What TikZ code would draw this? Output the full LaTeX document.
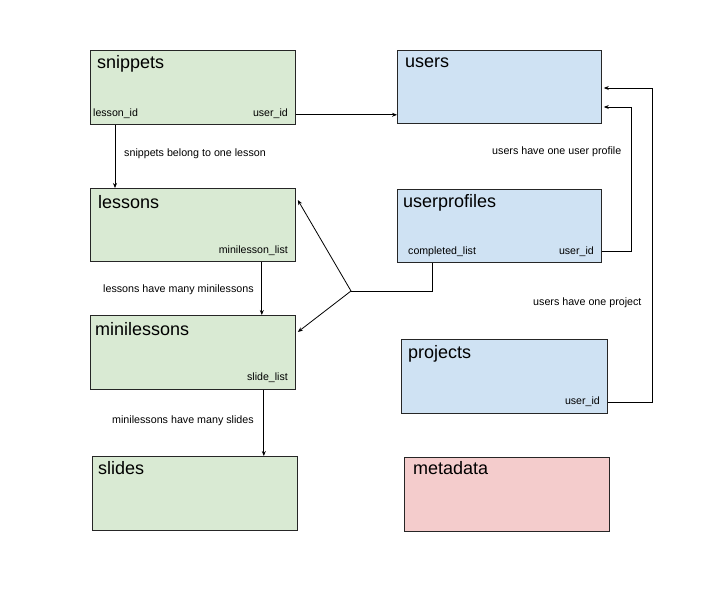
\documentclass[tikz,border=0pt]{standalone}
\usepackage{fontspec}
\setmainfont{Liberation Sans}
\usetikzlibrary{arrows.meta}
\definecolor{gfill}{HTML}{D9EAD3}
\definecolor{bfill}{HTML}{CFE2F3}
\definecolor{rfill}{HTML}{F4CCCC}
\begin{document}
\begin{tikzpicture}[x=1pt,y=-1pt,
  tbl/.style={draw=black!85,line width=0.8pt,anchor=north west,inner sep=0pt,minimum width=#1},
  gbox/.style={tbl=205pt,fill=gfill,minimum height=74pt},
  bbox/.style={tbl=204pt,fill=bfill,minimum height=73pt},
  rbox/.style={tbl=205pt,fill=rfill,minimum height=74pt},
  title/.style={anchor=base west,inner sep=0pt,font=\fontsize{18}{20}\selectfont},
  field/.style={inner sep=0pt,font=\fontsize{10.6}{12}\selectfont},
  lbl/.style={anchor=base west,inner sep=0pt,font=\fontsize{10.7}{12}\selectfont},
  conn/.style={draw=black,line width=0.8pt,-{Stealth[length=5pt,width=4pt]}},
  plain/.style={draw=black,line width=0.8pt}]
\useasboundingbox (0,0) rectangle (720,600);
% tables
\node[gbox] (snippets) at (90,50) {};
\node[gbox,minimum height=73pt] (lessons) at (90,188) {};
\node[gbox] (minilessons) at (90,315) {};
\node[gbox] (slides) at (92,456) {};
\node[bbox] (users) at (397,50) {};
\node[bbox] (userprofiles) at (397,189) {};
\node[tbl=206pt,fill=bfill,minimum height=74pt] (projects) at (401,339) {};
\node[rbox] (metadata) at (404,457) {};
% titles
\node[title] (t1) at (97,68) {snippets};
\node[title] (t2) at (98,208) {lessons};
\node[title] (t3) at (95,335) {minilessons};
\node[title] (t4) at (98,474) {slides};
\node[title] (t5) at (405,67) {users};
\node[title] (t6) at (403,207) {userprofiles};
\node[title] (t7) at (408,358) {projects};
\node[title] (t8) at (413,474) {metadata};
% fields
\node[field,anchor=base west] (f1) at (93,116) {lesson\_id};
\node[field,anchor=base east] (f2) at (288,116) {user\_id};
\node[field,anchor=base east] (f3) at (288,253) {minilesson\_list};
\node[field,anchor=base east] (f4) at (288,380) {slide\_list};
\node[field,anchor=base west] (f5) at (408,254) {completed\_list};
\node[field,anchor=base east] (f6) at (594,254) {user\_id};
\node[field,anchor=base east] (f7) at (600,404) {user\_id};
% labels
\node[lbl] (l1) at (124,156) {snippets belong to one lesson};
\node[lbl] (l2) at (103,292) {lessons have many minilessons};
\node[lbl] (l3) at (112,423) {minilessons have many slides};
\node[lbl] (l4) at (492,154) {users have one user profile};
\node[lbl] (l5) at (533,305) {users have one project};
% connectors
\draw[conn] ([xshift=25pt]snippets.south west) coordinate (a1) -- (a1 |- lessons.north);
\draw[conn] ([yshift=10pt]snippets.south east) coordinate (a2) -- (a2 -| users.west);
\draw[conn] ([xshift=-34pt]lessons.south east) coordinate (a3) -- (a3 |- minilessons.north);
\draw[conn] ([xshift=-32pt]minilessons.south east) coordinate (a4) -- (a4 |- slides.north);
\coordinate (junction) at (351,291);
\draw[plain] ([xshift=35pt]userprofiles.south west) |- (junction);
\draw[conn] (junction) -- ([xshift=2pt,yshift=-12pt]lessons.north east);
\draw[conn] (junction) -- ([xshift=2pt,yshift=-17pt]minilessons.north east);
\draw[conn] ([yshift=11pt]userprofiles.south east) -- ++(30,0) |- ([xshift=2pt,yshift=-57pt]users.north east);
\draw[conn] ([yshift=11pt]projects.south east) -- ++(45,0) |- ([xshift=2pt,yshift=-38pt]users.north east);
\end{tikzpicture}
\end{document}
